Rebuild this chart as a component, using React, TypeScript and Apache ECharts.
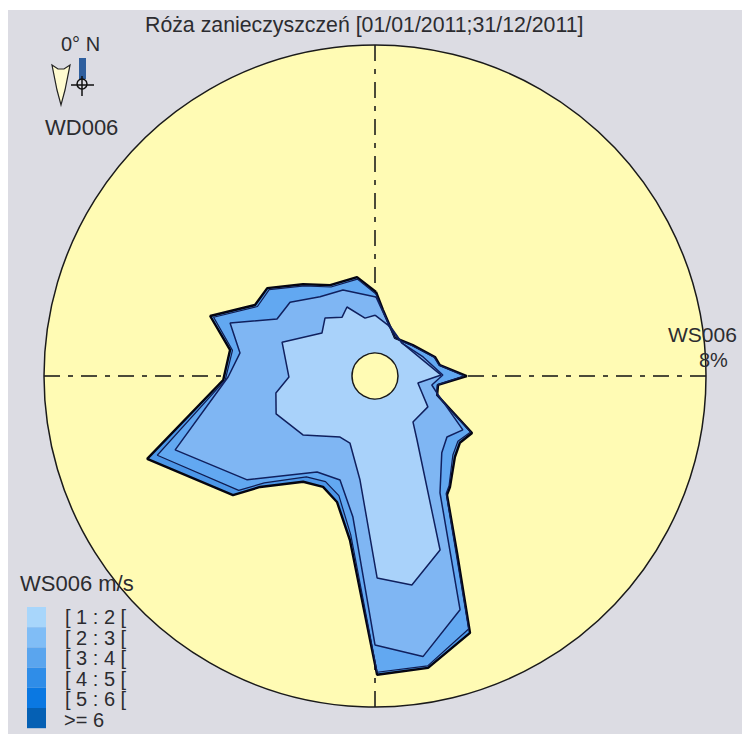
import React, { useEffect, useRef } from "react";
import * as echarts from "echarts";

const titleText = "Róża zanieczyszczeń [01/01/2011;31/12/2011]";
const legendLabels = ["[ 1 : 2 [", "[ 2 : 3 [", "[ 3 : 4 [", "[ 4 : 5 [", "[ 5 : 6 [", ">= 6"];
const legendColors = ["#a8d6fb", "#80bdf6", "#5aa5ee", "#2f8de8", "#0a78e2", "#0560b4"];

// Contours: direction in degrees clockwise from north, frequency in %
const outerAngles = [0.7, 6.9, 27.8, 50.8, 72.4, 80.4, 90, 98.1, 107, 120.4, 128.2, 135.4, 146, 148.8, 155.1, 159.7, 169.7, 179.6, 188.7, 196.8, 205.1, 214.2, 226, 230, 250, 268.5, 280.2, 290, 300.6, 309.2, 321.9, 333.7, 349.7];
const outerValues = [2.03, 1.61, 1.04, 1.18, 1.52, 1.59, 2.22, 1.54, 1.57, 2.72, 2.61, 2.75, 3.24, 3.36, 4.71, 6.62, 7.17, 7.22, 4.01, 3.18, 2.96, 3.09, 3.86, 4.48, 5.86, 3.67, 3.56, 4.24, 3.37, 3.36, 2.82, 2.45, 2.43];
const secondValues = [1.98, 1.58, 1.03, 1.16, 1.5, 1.57, 2.15, 1.52, 1.56, 2.68, 2.55, 2.68, 3.2, 3.32, 4.62, 6.52, 7.12, 7.16, 3.88, 3.02, 2.82, 2.95, 3.72, 4.3, 5.6, 3.62, 3.5, 4.15, 3.3, 3.3, 2.77, 2.4, 2.38];
const thirdAngles = [0.7, 13.8, 39.3, 68.4, 89.2, 99, 105.3, 121.5, 130.3, 139, 150.9, 160, 170.3, 180, 188.9, 198.6, 211.1, 230.9, 249.7, 269.6, 279.7, 290.1, 300.2, 311, 325.2, 339.6];
const thirdValues = [1.91, 1.32, 1.03, 1.25, 1.64, 1.39, 1.55, 2.49, 2.28, 2.46, 3.23, 6.01, 6.88, 6.5, 3.45, 2.65, 2.71, 3.98, 5.15, 3.55, 3.31, 3.73, 2.74, 2.72, 2.33, 2.22];
const innerAngles = [0, 14.3, 39.3, 71.6, 89.2, 99.2, 120.3, 140.4, 146.7, 159.5, 170, 179.4, 188.2, 200.5, 209.8, 230.7, 249, 260.3, 269.3, 290, 309, 319.2, 330.8, 337.9, 350.2];
const innerValues = [1.47, 1.27, 1.03, 1.22, 1.6, 1.05, 1.48, 1.44, 1.85, 4.49, 5.13, 4.88, 2.54, 1.73, 1.7, 2.25, 2.56, 2.43, 2.08, 2.39, 1.65, 1.85, 1.63, 1.8, 1.42];

const FONT = "Liberation Sans";
const INK = "#2c2c30";

const contour = (angles: number[], values: number[], fill: string, stroke: string, width: number) => {
  const pts = values.map((v, i) => [v, angles[i]]);
  pts.push(pts[0]);
  return {
    type: "line",
    coordinateSystem: "polar",
    data: pts,
    symbol: "none",
    smooth: false,
    clip: false,
    lineStyle: { color: stroke, width },
    areaStyle: { color: fill, opacity: 1 },
    silent: true,
  };
};

const label = (text: string, x: number, y: number, size: number, align = "left") => ({
  type: "text",
  z: 20,
  style: { text, x, y, fill: INK, font: `${size}px "${FONT}"`, textAlign: align, textVerticalAlign: "middle" },
});

export default function App() {
  const ref = useRef<HTMLDivElement>(null);
  useEffect(() => {
    const chart = echarts.init(ref.current!, undefined, { renderer: "svg" });
    chart.setOption({
      animation: false,
      backgroundColor: "#ffffff",
      polar: { center: [375, 376], radius: 331 },
      angleAxis: {
        type: "value",
        min: 0,
        max: 360,
        interval: 90,
        startAngle: 90,
        clockwise: true,
        axisLine: { show: true, lineStyle: { color: "#1a1a1a", width: 1.5 } },
        axisTick: { show: false },
        axisLabel: { show: false },
        splitLine: { show: true, lineStyle: { color: "#111", width: 1.5, type: [16, 8, 5, 8] } },
      },
      radiusAxis: {
        type: "value",
        min: 0,
        max: 8,
        axisLine: { show: false },
        axisTick: { show: false },
        axisLabel: { show: false },
        splitLine: { show: false },
      },
      series: [
        contour(outerAngles, outerValues, "#4c97e8", "#050510", 2.4),
        contour(outerAngles, secondValues, "#62a8f1", "#101c50", 1.2),
        contour(thirdAngles, thirdValues, "#7fb6f3", "#10205e", 1.5),
        contour(innerAngles, innerValues, "#a9d2fa", "#10205e", 1.5),
        {
          type: "scatter",
          coordinateSystem: "polar",
          data: [[0, 0]],
          symbol: "circle",
          symbolSize: 46,
          z: 5,
          itemStyle: { color: "#fffbb4", borderColor: "#1a1a1a", borderWidth: 1.5, opacity: 1 },
          silent: true,
        },
      ],
      graphic: [
        { type: "rect", z: -10, shape: { x: 8, y: 10, width: 734, height: 724 }, style: { fill: "#dcdce3" } },
        { type: "circle", z: -9, shape: { cx: 375, cy: 376, r: 331 }, style: { fill: "#fffbb4" } },
        label(titleText, 145, 25, 21.3),
        label("0° N", 61, 44, 20),
        label("WD006", 45, 127, 22),
        label("WS006", 668, 334, 21),
        label("8%", 699, 360, 20),
        label("WS006 m/s", 20, 583, 22),
        { type: "polygon", z: 12, shape: { points: [[52, 65], [58, 69], [64, 69], [70, 65], [65, 90], [61, 105], [57, 90]] }, style: { fill: "#fffbd0", stroke: "#222", lineWidth: 1.2 } },
        { type: "rect", z: 12, shape: { x: 79, y: 58, width: 7, height: 21 }, style: { fill: "#2f5f9e" } },
        { type: "circle", z: 12, shape: { cx: 82, cy: 84, r: 5 }, style: { fill: "none", stroke: "#111", lineWidth: 1.5 } },
        { type: "line", z: 12, shape: { x1: 71, y1: 85, x2: 94, y2: 85 }, style: { stroke: "#111", lineWidth: 1.5 } },
        { type: "line", z: 12, shape: { x1: 82, y1: 76, x2: 82, y2: 96 }, style: { stroke: "#111", lineWidth: 1.5 } },
        ...legendColors.map((c, i) => ({ type: "rect", z: 12, shape: { x: 27, y: 607 + i * 20.2, width: 19, height: 20.2 }, style: { fill: c } })),
        ...legendLabels.map((t, i) => label(t, i === 5 ? 64 : 65, 617 + i * 20.6, 20)),
      ],
    });
    return () => chart.dispose();
  }, []);
  return <div ref={ref} style={{ position: "absolute", left: 0, top: 0, width: 742, height: 734 }} />;
}
